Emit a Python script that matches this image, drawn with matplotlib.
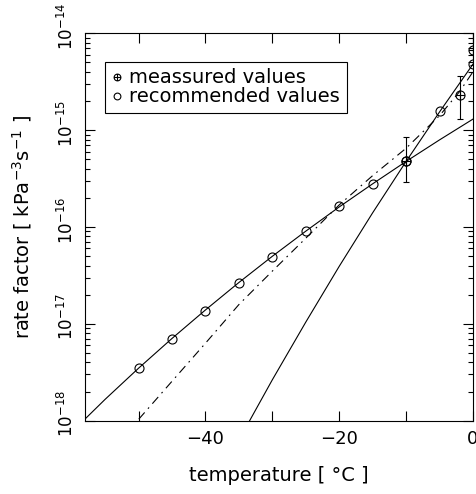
import numpy as np
import matplotlib
matplotlib.use("Agg")
import matplotlib.pyplot as plt
from matplotlib.path import Path
from matplotlib.transforms import ScaledTranslation
from matplotlib.ticker import MultipleLocator, LogLocator, NullFormatter

# === Data ===
# recommended values (open circles)
rec_T = [-50, -45, -40, -35, -30, -25, -20, -15, -10, -5, 0]
rec_k = [3.5e-18, 7.0e-18, 1.37e-17, 2.65e-17, 4.95e-17, 9.1e-17,
         1.65e-16, 2.8e-16, 4.75e-16, 1.57e-15, 4.85e-15]

# measured values (circle with cross) and their error bars
meas_T = [-10, -2, 0]
meas_k = [4.75e-16, 2.33e-15, 6.7e-15]
meas_lo = [2.9e-16, 1.29e-15, 4.7e-15]
meas_hi = [8.5e-16, 3.63e-15, 1.0e-14]

# solid curve through the low temperature values
low_T = [-58, -55, -50, -45, -40, -35, -30, -25, -20, -15, -10, -5, 0]
low_k = [1.04e-18, 1.66e-18, 3.48e-18, 7.06e-18, 1.39e-17, 2.67e-17, 4.98e-17,
         9.05e-17, 1.61e-16, 2.79e-16, 4.75e-16, 7.93e-16, 1.30e-15]

# steep solid curve
high_T = [-35, -30, -25, -20, -15, -10, -5, 0]
high_k = [6.3e-19, 2.64e-18, 1.04e-17, 3.92e-17, 1.40e-16, 4.75e-16, 1.54e-15, 4.80e-15]

# dash-dot curve
dd_T = [-52, -50, -45, -40, -35, -30, -25, -20, -15, -10, -5, -2, 0]
dd_k = [7.2e-19, 1.03e-18, 2.55e-18, 6.3e-18, 1.58e-17, 3.5e-17, 7.65e-17,
        1.69e-16, 3.39e-16, 6.5e-16, 1.41e-15, 2.5e-15, 4.0e-15]

# === Style ===
plt.rcParams['font.family'] = ['DejaVu Sans']
plt.rcParams['font.size'] = 12
lw = 0.8

# circle with a cross through it
oplus = Path.make_compound_path(
    Path.unit_circle(),
    Path([[-1, 0], [1, 0], [0, -1], [0, 1]],
         [Path.MOVETO, Path.LINETO, Path.MOVETO, Path.LINETO]))

fig = plt.figure(figsize=(4.76, 4.94), dpi=100)
ax = fig.add_axes([0.1786, 0.1484, 0.815, 0.7842])

ax.plot(low_T, low_k, color='black', lw=lw)
ax.plot(high_T, high_k, color='black', lw=lw)
ax.plot(dd_T, dd_k, color='black', lw=lw, linestyle=(0, (8, 4.5, 1.5, 4.5)))

yerr = [np.array(meas_k) - np.array(meas_lo), np.array(meas_hi) - np.array(meas_k)]
ax.errorbar(meas_T, meas_k, yerr=yerr, fmt='none', ecolor='black',
            elinewidth=lw, capsize=2.5, capthick=lw)
ax.plot(meas_T, meas_k, linestyle='none', marker=oplus, markersize=6.5,
        markerfacecolor='none', markeredgecolor='black', markeredgewidth=lw,
        label='meassured values')
ax.plot(rec_T, rec_k, linestyle='none', marker='o', markersize=6.5,
        markerfacecolor='none', markeredgecolor='black', markeredgewidth=lw,
        label='recommended values')

ax.set_yscale('log')
ax.set_xlim(-58, 0)
ax.set_ylim(1e-18, 1e-14)

ax.xaxis.set_major_locator(MultipleLocator(20))
ax.xaxis.set_minor_locator(MultipleLocator(10))
ax.yaxis.set_major_locator(LogLocator(base=10, numticks=10))
ax.yaxis.set_minor_locator(LogLocator(base=10, subs=np.arange(2, 10), numticks=10))
ax.yaxis.set_minor_formatter(NullFormatter())

ax.tick_params(which='both', direction='in', top=True, right=True, width=lw)
ax.tick_params(axis='x', which='both', length=7, pad=7, labelsize=13)
ax.tick_params(axis='y', which='major', length=7, pad=6, labelsize=12)
ax.tick_params(axis='y', which='minor', length=3.5)

# rotated y labels, shifted up a little like the reference
shift = ScaledTranslation(0, 0.07, fig.dpi_scale_trans)
for lab in ax.get_yticklabels():
    lab.set_rotation(90)
    lab.set_va('center')
    lab.set_transform(lab.get_transform() + shift)

for s in ax.spines.values():
    s.set_linewidth(lw)

ax.set_xlabel('temperature [ °C ]', labelpad=13, fontsize=14)
ax.set_ylabel('rate factor [ kPa$^{-3}$s$^{-1}$ ]', labelpad=16, fontsize=14)

leg = ax.legend(loc='upper left', bbox_to_anchor=(0.052, 0.927), borderaxespad=0,
                fancybox=False, edgecolor='black', framealpha=1, handlelength=0.5,
                handletextpad=0.4, borderpad=0.35, labelspacing=0.0,
                markerscale=0.75, fontsize=14)
leg.get_frame().set_linewidth(lw)

fig.savefig('out.png', dpi=100)
